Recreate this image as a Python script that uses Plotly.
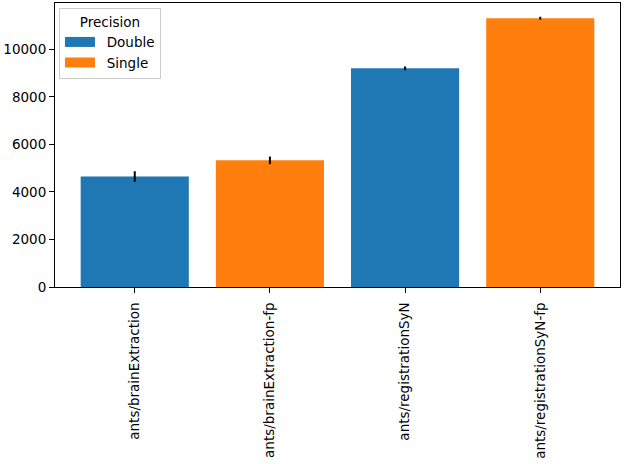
import plotly.graph_objects as go

categories = ["ants/brainExtraction", "ants/brainExtraction-fp",
              "ants/registrationSyN", "ants/registrationSyN-fp"]
precision = ["Double", "Single", "Double", "Single"]
values = [4650, 5330, 9200, 11310]
errors = [220, 160, 80, 60]
y_ticks = [0, 2000, 4000, 6000, 8000, 10000]
colors = {"Double": "#1f77b4", "Single": "#ff7f0e"}

fig = go.Figure()
for p in ["Double", "Single"]:
    xs = [i for i, q in enumerate(precision) if q == p]
    fig.add_trace(go.Bar(
        x=xs, y=[values[i] for i in xs], name=p, showlegend=False,
        marker=dict(color=colors[p], line=dict(width=0)),
        width=0.8,
        error_y=dict(type="data", array=[errors[i] for i in xs],
                     color="black", thickness=2, width=0),
    ))
for p in ["Double", "Single"]:
    # legend patch (wide rectangle like matplotlib)
    fig.add_trace(go.Scatter(
        x=[None], y=[None], mode="lines", name="\u2002" + p,
        line=dict(color=colors[p], width=10),
    ))

fig.update_layout(
    width=624, height=464,
    margin=dict(l=55, r=4, t=3, b=177),
    paper_bgcolor="white", plot_bgcolor="white",
    font=dict(family="DejaVu Sans", size=13, color="black"),
    showlegend=True, hovermode=False,
    legend=dict(
        title=dict(text="Precision", side="top center", font=dict(size=13.5)),
        x=0.007, y=0.982, xanchor="left", yanchor="top",
        bgcolor="rgba(255,255,255,0.8)", bordercolor="#cccccc", borderwidth=1,
        font=dict(size=13.5), itemwidth=30, tracegroupgap=0,
    ),
    barmode="overlay",
)
fig.update_xaxes(
    range=[-0.59, 3.59], tickmode="array", tickvals=list(range(len(categories))),
    ticktext=categories, tickangle=-90, ticks="outside", ticklen=5,
    tickcolor="black", showline=True, linecolor="black", linewidth=1,
    mirror=True, showgrid=False, zeroline=False, automargin=False,
    tickfont=dict(size=13.5), ticklabelstandoff=4,
)
fig.update_yaxes(
    range=[0, 11950], tickmode="array", tickvals=y_ticks,
    ticktext=[str(v) for v in y_ticks],
    ticks="outside", ticklen=5, tickcolor="black", showline=True,
    linecolor="black", linewidth=1, mirror=True, showgrid=False, zeroline=False,
    automargin=False, tickfont=dict(size=13.5),
)
fig.write_html("out.html", config={"displayModeBar": False, "staticPlot": True},
               post_script="document.body.style.margin='0';document.body.style.overflow='hidden';")
